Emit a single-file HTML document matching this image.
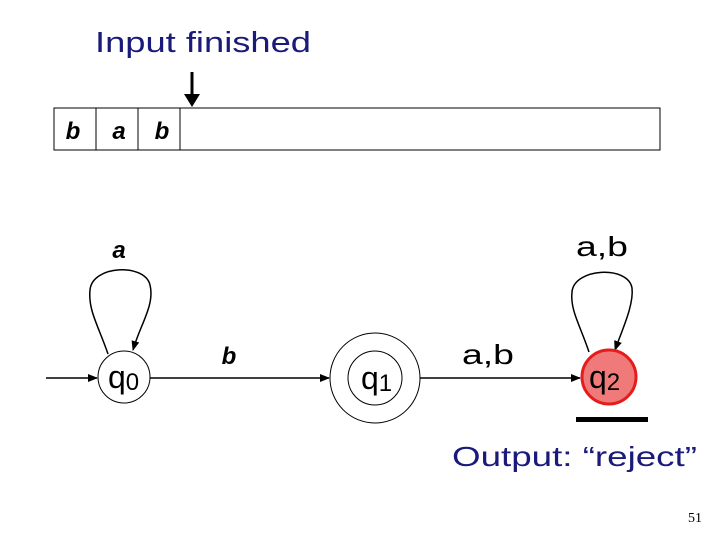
<!DOCTYPE html>
<html><head><style>body{margin:0;background:#fff}svg{display:block}</style></head><body>
<svg width="720" height="540" viewBox="0 0 720 540" xmlns="http://www.w3.org/2000/svg">
<defs><marker id="ah" markerWidth="10" markerHeight="8" refX="9" refY="4" orient="auto" markerUnits="userSpaceOnUse"><path d="M0,0 L10,4 L0,8 z" fill="#000"/></marker></defs>
<text x="95" y="52" font-family="Liberation Sans, sans-serif" font-size="29" fill="#1a1a7a" textLength="216" lengthAdjust="spacingAndGlyphs">Input finished</text>
<line x1="192" y1="72" x2="192" y2="96" stroke="#000" stroke-width="3"/>
<path d="M184,94 L200,94 L192,107 z" fill="#000"/>
<rect x="54" y="108" width="606" height="42" fill="none" stroke="#000" stroke-width="1"/>
<line x1="96" y1="108" x2="96" y2="150" stroke="#000"/><line x1="138" y1="108" x2="138" y2="150" stroke="#000"/><line x1="180" y1="108" x2="180" y2="150" stroke="#000"/>
<g font-family="Liberation Sans, sans-serif" font-style="italic" font-weight="bold" font-size="24" text-anchor="middle">
<text x="73" y="139">b</text><text x="119" y="139">a</text><text x="162" y="139">b</text>
<text x="119" y="258">a</text><text x="229" y="364">b</text>
</g>
<g font-family="Liberation Sans, sans-serif" font-size="28">
<text x="462" y="364" textLength="52" lengthAdjust="spacingAndGlyphs">a,b</text><text x="576" y="256" textLength="52" lengthAdjust="spacingAndGlyphs">a,b</text>
</g>
<line x1="46" y1="378" x2="97" y2="378" stroke="#000" stroke-width="1.5" marker-end="url(#ah)"/>
<line x1="150" y1="378" x2="329" y2="378" stroke="#000" stroke-width="1.5" marker-end="url(#ah)"/>
<line x1="420" y1="378" x2="580" y2="378" stroke="#000" stroke-width="1.5" marker-end="url(#ah)"/>
<path d="M108,354 C98,325 88,310 90,290 C92,265 145,263 150,285 C155,305 140,325 133,350" fill="none" stroke="#000" stroke-width="1.5" marker-end="url(#ah)"/>
<path d="M589,352 C580,325 570,310 572,292 C574,268 628,265 632,288 C634,305 622,330 615,350" fill="none" stroke="#000" stroke-width="1.5" marker-end="url(#ah)"/>
<circle cx="124" cy="377" r="26" fill="#fff" stroke="#000"/>
<circle cx="375" cy="378" r="45" fill="#fff" stroke="#000"/>
<circle cx="375" cy="378" r="27" fill="none" stroke="#000"/>
<circle cx="609" cy="377" r="27" fill="#f07a7a" stroke="#e51c1c" stroke-width="3"/>
<g font-family="Liberation Sans, sans-serif" font-size="32">
<text x="108" y="388">q<tspan font-size="24" dy="2">0</tspan></text>
<text x="361" y="389">q<tspan font-size="24" dy="2">1</tspan></text>
<text x="589" y="388">q<tspan font-size="24" dy="2">2</tspan></text>
</g>
<rect x="576" y="417" width="72" height="5" fill="#000"/>
<text x="452" y="466" font-family="Liberation Sans, sans-serif" font-size="28" fill="#1a1a7a" textLength="245" lengthAdjust="spacingAndGlyphs">Output: “reject”</text>
<text x="688" y="522" font-family="Liberation Serif, serif" font-size="14">51</text>
</svg>
</body></html>
